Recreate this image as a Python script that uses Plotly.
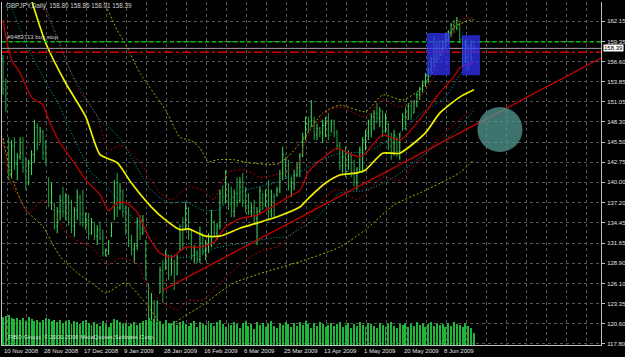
import plotly.graph_objects as go

# ---------------- data (GBPJPY daily) ----------------
bar_high = [157.5,154.3,146.2,145.8,146.2,144.0,146.2,146.2,143.5,143.1,
            144.4,148.6,148.1,147.6,147.2,145.8,140.7,139.9,137.2,136.6,
            138.3,139.4,138.5,138.3,137.6,136.6,139.0,138.3,139.0,135.8,
            135.8,135.1,134.4,134.1,134.6,133.5,130.9,132.1,134.4,140.3,
            141.3,139.9,139.0,136.9,136.6,132.8,131.7,135.2,135.5,135.5,
            132.1,126.2,124.8,123.8,123.8,128.4,129.3,130.7,130.0,130.0,
            129.3,130.0,134.2,135.2,137.2,136.6,133.5,131.4,130.7,133.9,
            132.8,132.1,133.0,136.2,134.8,134.4,139.0,139.6,141.7,139.9,
            139.4,139.0,140.7,140.7,141.3,139.4,138.5,137.2,137.6,136.6,
            139.4,138.5,139.0,140.3,139.0,138.5,139.4,141.7,144.9,143.5,
            143.1,140.7,141.7,142.7,144.0,146.8,149.0,149.0,151.3,149.0,
            148.1,147.6,148.6,149.0,149.5,148.6,148.6,147.2,145.4,144.4,
            144.9,144.4,144.0,143.1,142.1,144.9,146.2,147.2,148.6,149.5,
            149.9,150.9,150.3,149.9,149.5,148.1,146.8,147.2,146.2,146.8,
            149.5,150.3,150.9,151.3,151.3,152.3,153.1,154.0,155.0,155.8,
            157.2,160.0,159.1,159.5,159.5,160.5,160.9,161.9,162.3,162.7,
            161.9,160.0,159.5,158.9,159.5,158.86]
bar_low = [152.0,149.6,140.3,140.7,141.7,140.3,143.1,141.3,138.9,139.6,
           141.0,142.7,144.4,145.5,143.1,142.4,136.6,136.2,133.5,133.0,
           134.8,135.2,134.8,134.1,133.0,132.5,134.8,134.1,133.9,133.5,
           132.1,132.8,132.1,131.4,132.1,129.8,129.8,130.0,132.5,134.8,
           135.2,136.2,135.2,132.8,131.1,130.0,128.9,130.7,132.1,132.8,
           126.6,120.1,121.1,119.7,120.8,124.8,123.4,128.0,126.6,127.3,
           125.2,127.3,130.7,130.7,133.5,132.1,129.3,128.9,128.9,128.9,
           130.0,129.3,130.3,131.1,132.5,132.1,133.5,136.9,137.2,136.2,
           135.2,135.2,136.6,137.2,136.6,135.8,135.5,135.2,134.4,131.4,
           135.8,136.2,136.6,134.8,135.2,135.2,138.0,138.5,140.3,140.7,
           138.9,138.0,138.9,140.7,140.7,143.5,145.8,146.8,147.6,145.8,
           145.8,146.2,145.4,146.2,145.8,146.8,146.2,144.4,141.7,141.3,
           140.7,141.7,140.7,139.4,138.9,141.3,141.3,144.4,145.8,146.2,
           147.2,148.1,147.6,146.2,146.8,144.4,143.1,143.7,143.5,143.1,
           147.2,147.2,148.6,148.6,149.5,150.3,151.3,152.3,153.1,153.6,
           155.0,155.8,156.4,157.2,157.8,158.6,159.1,160.0,160.5,160.9,
           159.1,155.8,156.4,155.4,156.8,158.01]
bar_open = [157.0,152.8,145.5,141.0,145.0,142.5,143.5,144.0,142.0,140.0,
            142.6,143.8,147.5,145.2,147.0,144.0,140.2,137.2,137.0,134.0,
            136.0,137.5,136.0,137.8,135.0,134.0,136.2,138.0,135.5,134.5,
            134.8,133.0,134.5,132.6,133.5,132.3,130.3,130.6,132.6,134.5,
            139.8,136.5,138.8,136.0,133.5,132.0,130.8,131.3,134.6,133.0,
            132.0,126.0,121.0,123.6,120.5,124.8,127.9,128.0,130.0,127.2,
            129.3,127.3,130.7,133.5,133.5,136.4,132.8,130.0,130.4,129.4,
            133.0,130.6,131.5,132.5,134.5,133.0,134.0,138.5,138.0,139.5,
            137.0,136.0,138.5,137.5,140.0,137.5,136.8,136.0,136.5,135.0,
            136.0,138.8,137.0,138.2,136.0,138.0,138.2,139.0,141.2,143.8,
            141.5,139.5,139.8,141.0,142.0,143.6,146.2,148.0,147.6,148.5,
            146.5,147.4,146.8,147.8,148.5,146.5,148.0,146.8,145.0,142.3,
            143.5,141.5,143.6,141.2,140.0,141.8,144.4,145.8,146.8,148.0,
            149.0,149.5,148.8,149.8,147.0,148.0,145.0,144.0,146.0,144.2,
            147.2,149.0,148.6,150.5,149.5,151.0,152.0,152.8,153.6,154.7,
            155.4,156.9,157.0,158.8,157.6,159.2,160.2,160.6,161.6,161.2,
            161.8,159.6,156.5,158.5,156.2,158.80]
bar_close = [152.8,150.2,141.0,145.0,142.5,143.5,144.0,142.0,140.0,142.6,
             143.8,147.5,145.2,147.0,144.0,142.8,137.2,138.5,134.0,136.0,
             137.5,136.0,137.8,135.0,134.0,136.2,138.0,135.5,134.5,134.8,
             133.0,134.5,132.6,133.5,132.3,130.3,130.6,131.8,134.0,139.8,
             136.5,138.8,136.0,133.5,132.0,130.8,131.3,134.6,133.0,134.8,
             127.2,121.0,123.6,120.5,123.5,127.9,125.0,130.0,127.2,129.5,
             126.0,129.6,133.5,131.5,136.4,132.8,130.0,130.4,129.4,133.0,
             130.6,131.5,132.5,135.5,133.0,134.0,138.5,138.0,140.8,137.0,
             136.0,138.5,137.5,140.0,137.5,136.8,136.0,136.5,135.0,136.0,
             138.8,137.0,138.2,136.0,138.0,137.5,139.0,141.2,143.8,141.5,
             139.5,139.8,141.0,142.0,143.6,146.2,148.0,147.5,148.5,146.5,
             147.4,146.8,147.8,148.5,146.5,148.0,146.8,145.0,142.3,143.5,
             141.5,143.6,141.2,140.0,141.8,144.4,145.8,146.8,148.0,149.0,
             149.5,148.8,149.8,147.0,148.6,145.0,144.0,146.5,144.2,146.5,
             149.0,148.0,150.5,149.2,151.0,152.0,152.8,153.6,154.7,155.4,
             156.9,157.0,158.8,157.6,159.2,160.2,160.6,161.6,161.2,162.2,
             159.6,156.5,159.0,156.2,158.8,158.39]
volume = [28000,29000,30000,27000,26000,27000,25000,27000,24000,28000,
          26000,24000,25000,23000,25000,27000,26000,24000,25000,23000,
          25000,22000,24000,25000,21000,24000,23000,21000,24000,25000,
          22000,20000,23000,21000,19000,24000,21000,18000,22000,26000,
          25000,23000,21000,22000,19000,21000,23000,20000,22000,24000,
          25000,27000,24000,26000,23000,24000,21000,25000,22000,21000,
          24000,20000,23000,24000,21000,19000,22000,24000,18000,23000,
          21000,20000,24000,22000,19000,23000,25000,21000,18000,22000,
          20000,23000,21000,17000,22000,24000,19000,21000,16000,23000,
          20000,22000,18000,21000,24000,19000,17000,22000,20000,23000,
          21000,18000,22000,19000,23000,20000,24000,21000,17000,22000,
          19000,23000,21000,18000,20000,22000,19000,21000,23000,18000,
          20000,22000,17000,21000,19000,23000,20000,18000,22000,21000,
          19000,17000,22000,20000,18000,21000,23000,19000,17000,21000,
          20000,22000,18000,21000,19000,23000,20000,22000,18000,21000,
          23000,19000,22000,20000,21000,18000,22000,19000,23000,21000,
          20000,18000,22000,19000,17000,12000]

# moving average (yellow, solid) and its cyan envelopes
ma_slow_x = [10,15,22,29,34,40,45,52,57,62,65,71,76,83,89,97,104,107,113,118,124,127,133,139,148,153,160,165]
ma_slow_y = [165.0,159.1,153.6,149.0,143.8,142.7,139.9,136.6,134.8,133.5,133.6,132.6,132.6,133.7,134.4,
             135.4,136.6,137.8,139.9,141.0,141.3,141.7,144.0,144.0,146.8,149.5,151.7,152.7]
cyan_up_x = [14,18,22,24,30,35,38,42,47,52,58,64,70,75,81,85,95,104,110,118,127,137,148,155,160,164,165]
cyan_up_y = [165.0,160.9,156.8,155.0,150.9,148.1,147.2,145.5,142.0,138.9,137.2,137.3,136.2,136.2,138.1,138.9,
             139.9,141.4,142.8,144.0,144.2,146.2,149.9,151.7,154.7,156.5,157.1]
cyan_lo_x = [2,8,14,20,23,28,31,36,41,48,51,55,61,65,72,76,85,95,99,110,118,127,137,148,158,165]
cyan_lo_y = [165.0,159.1,154.5,150.3,147.6,143.5,141.3,139.6,137.2,133.9,132.6,130.3,129.7,129.7,130.7,131.1,
             131.7,132.4,132.5,135.2,138.5,138.9,140.7,144.0,146.8,149.9]

# faster moving average (red, solid) and its red dashed envelopes
ma_fast_x = [0,1,3,6,10,14,16,20,26,29,34,37,40,43,47,51,55,59,64,69,74,78,83,89,95,100,104,107,112,117,
             121,125,127,133,139,146,153,158,160,165]
ma_fast_y = [162.3,160.0,156.8,155.0,151.7,150.6,148.6,145.4,142.1,140.3,138.3,136.1,137.2,137.2,135.9,132.5,
             130.3,129.7,131.1,131.1,131.8,133.9,135.0,135.5,136.8,138.0,138.9,141.4,143.3,144.7,
             144.0,143.5,144.0,146.5,145.8,148.6,152.3,154.5,155.7,156.5]
red_up_x = [13,20,26,33,37,41,45,49,55,59,65,70,74,76,79,85,90,95,103,106,110,114,119,123,127,133,139,146,151,
            157,160,164,165]
red_up_y = [165.0,158.9,153.1,149.0,144.4,145.1,144.0,142.1,138.5,137.6,139.4,138.9,137.6,139.4,141.4,141.7,
            140.7,141.0,142.1,145.8,148.1,149.9,150.3,149.5,149.0,151.3,150.3,151.7,154.5,160.0,162.3,162.6,162.6]
red_lo_x = [0,2,6,9,14,17,22,27,31,35,37,41,47,50,55,61,65,70,76,85,91,96,106,111,116,119,124,127,133,139,
            146,153,160,165]
red_lo_y = [145.8,140.7,137.6,135.8,137.6,136.6,133.0,131.8,131.1,129.3,128.7,129.6,128.9,126.2,123.8,122.5,
            123.8,123.8,126.2,129.3,130.7,131.1,134.8,137.2,138.9,138.9,137.6,138.5,140.7,140.3,
            143.1,146.2,148.6,150.2]

# outer yellow dashed envelopes
yel_up_x = [32,35,40,43,48,57,62,66,69,72,75,81,86,96,100,105,112,118,127,133,140,146,151,158,164,165]
yel_up_y = [166.5,165.0,160.9,158.9,155.0,149.9,146.2,145.7,144.7,142.8,143.1,143.1,142.7,142.5,143.6,145.8,
            149.5,150.6,149.7,152.0,151.3,152.7,155.4,161.3,162.3,162.3]
yel_lo_x = [0,3,8,14,20,26,33,36,43,50,55,57,63,69,81,92,104,118,127,137,148,160,165]
yel_lo_y = [146.1,140.7,136.2,133.9,129.8,127.6,125.6,124.8,126.2,123.4,120.7,120.0,121.5,122.9,126.2,127.7,
            129.1,131.1,133.5,136.9,138.9,141.3,143.1]

# straight red trend line (two anchor points)
trend_x = [56, 209.5]
trend_y = [125.2, 157.07]

# order / price levels
buy_stop_level = 159.30
stop_level = 157.85
bid_level = 158.39

# rectangles and circle drawn on the chart (bar index / price)
rects = [(148.5, 156.6, 154.7, 160.5), (160.8, 167.1, 154.7, 160.2)]
circle = (166.2, 182.0, 144.16, 150.34)

# axis labels
ytick_vals = [162.15,159.35,156.60,153.85,151.05,148.30,145.50,142.75,140.00,137.20,
              134.45,131.65,128.90,126.10,123.35,120.60,117.80]
ytick_text = ["%.2f" % v for v in ytick_vals]
date_pos = [0,14,28,42,56,70,84,98,112,126,140,154]
date_text = ["10 Nov 2008","28 Nov 2008","17 Dec 2008","9 Jan 2009","28 Jan 2009","16 Feb 2009",
             "6 Mar 2009","25 Mar 2009","13 Apr 2009","1 May 2009","20 May 2009","8 Jun 2009"]

FONT = "Liberation Sans"
idx = list(range(len(bar_high)))

fig = go.Figure()
fig.add_trace(go.Bar(x=idx, y=volume, yaxis="y2", width=0.34,
                     marker=dict(color="#1fb53a", line=dict(width=0)), hoverinfo="skip"))
fig.add_trace(go.Ohlc(x=idx, open=bar_open, high=bar_high, low=bar_low, close=bar_close,
                      increasing=dict(line=dict(color="#3ee060", width=1)),
                      decreasing=dict(line=dict(color="#1faa44", width=1)),
                      tickwidth=0.3))

def add_line(xs, ys, color, width, dash="solid"):
    fig.add_trace(go.Scatter(x=xs, y=ys, mode="lines", hoverinfo="skip",
                             line=dict(color=color, width=width, dash=dash, shape="spline", smoothing=0.6)))

add_line(yel_up_x, yel_up_y, "#a8a800", 1, "2px,2px")
add_line(yel_lo_x, yel_lo_y, "#a8a800", 1, "2px,2px")
add_line(red_up_x, red_up_y, "#b00000", 1, "2px,2px")
add_line(red_lo_x, red_lo_y, "#b00000", 1, "2px,2px")
add_line(cyan_up_x, cyan_up_y, "#00a8a8", 1, "1px,2px")
add_line(cyan_lo_x, cyan_lo_y, "#00a8a8", 1, "1px,2px")
add_line(ma_fast_x, ma_fast_y, "#c00000", 1.3)
add_line(ma_slow_x, ma_slow_y, "#f0f000", 1.7)
fig.add_trace(go.Scatter(x=trend_x, y=trend_y, mode="lines", hoverinfo="skip",
                         line=dict(color="#c80000", width=1.3)))

shapes = []
shapes.append(dict(type="line", xref="paper", x0=0, x1=1, yref="y", y0=buy_stop_level, y1=buy_stop_level,
                   line=dict(color="#00c000", width=1.3, dash="4px,3px")))
shapes.append(dict(type="line", xref="paper", x0=0, x1=1, yref="y", y0=bid_level, y1=bid_level,
                   line=dict(color="#a0a0a0", width=1)))
shapes.append(dict(type="line", xref="paper", x0=0, x1=1, yref="y", y0=stop_level, y1=stop_level,
                   line=dict(color="#d80000", width=1.5, dash="dashdot")))
for x0, x1, y0, y1 in rects:
    shapes.append(dict(type="rect", xref="x", yref="y", x0=x0, x1=x1, y0=y0, y1=y1, layer="above",
                       fillcolor="rgb(50,50,255)", opacity=0.72, line=dict(width=0)))
cx0, cx1, cy0, cy1 = circle
shapes.append(dict(type="circle", xref="x", yref="y", x0=cx0, x1=cx1, y0=cy0, y1=cy1, layer="above",
                   fillcolor="rgb(85,160,150)", opacity=0.72, line=dict(width=0)))

ann = []
ann.append(dict(text="GBPJPY,Daily  158.80 158.86 158.01 158.39", xref="paper", yref="paper",
                x=0.004, y=0.988, xanchor="left", yanchor="middle", showarrow=False,
                font=dict(family=FONT, size=6.3, color="#d0d0d0")))
ann.append(dict(text="#9483713 buy stop", xref="paper", yref="y", x=0.005, y=159.95,
                xanchor="left", yanchor="middle", showarrow=False,
                font=dict(family=FONT, size=6, color="#d0d0d0")))
ann.append(dict(text="FIBO Group, © 2001-2008 MetaQuotes Software Corp.", xref="paper", yref="paper",
                x=0.006, y=0.022, xanchor="left", yanchor="middle", showarrow=False,
                font=dict(family=FONT, size=6, color="#d8d8d8")))
ann.append(dict(text="158.39", xref="paper", yref="y", x=1.0, y=bid_level, xanchor="left", yanchor="middle",
                showarrow=False, bgcolor="#ffffff", borderpad=0, xshift=2,
                font=dict(family=FONT, size=6, color="#000000")))
for p, t in zip(date_pos, date_text):
    ann.append(dict(text=t, xref="x", yref="paper", x=p, y=0, xanchor="left", yanchor="top",
                    showarrow=False, yshift=-1, xshift=-1,
                    font=dict(family=FONT, size=6, color="#e0e0e0")))

grid_x = [1.4 + 7 * k for k in range(30)]

fig.update_layout(
    width=625, height=357, margin=dict(l=2, r=24, t=2, b=12),
    paper_bgcolor="#000000", plot_bgcolor="#000000", showlegend=False,
    shapes=shapes, annotations=ann,
    xaxis=dict(range=[-0.35, 209.5], tickvals=grid_x, showticklabels=False, ticks="",
               showgrid=True, gridcolor="#555555", griddash="3px,3px", gridwidth=1,
               zeroline=False, showline=True, linecolor="#c0c0c0", linewidth=1,
               rangeslider=dict(visible=False), fixedrange=True),
    yaxis=dict(range=[117.66, 164.76], side="right", tickvals=ytick_vals, ticktext=ytick_text,
               ticks="outside", ticklen=3, tickcolor="#c0c0c0", ticklabelstandoff=1,
               tickfont=dict(family=FONT, size=6, color="#e0e0e0"),
               showgrid=True, gridcolor="#555555", griddash="3px,3px", gridwidth=1,
               zeroline=False, showline=True, mirror=True, linecolor="#c0c0c0", linewidth=1,
               automargin=False),
    yaxis2=dict(overlaying="y", range=[0, 343000], visible=False),
    bargap=0,
)

fig.write_html("out.html")
